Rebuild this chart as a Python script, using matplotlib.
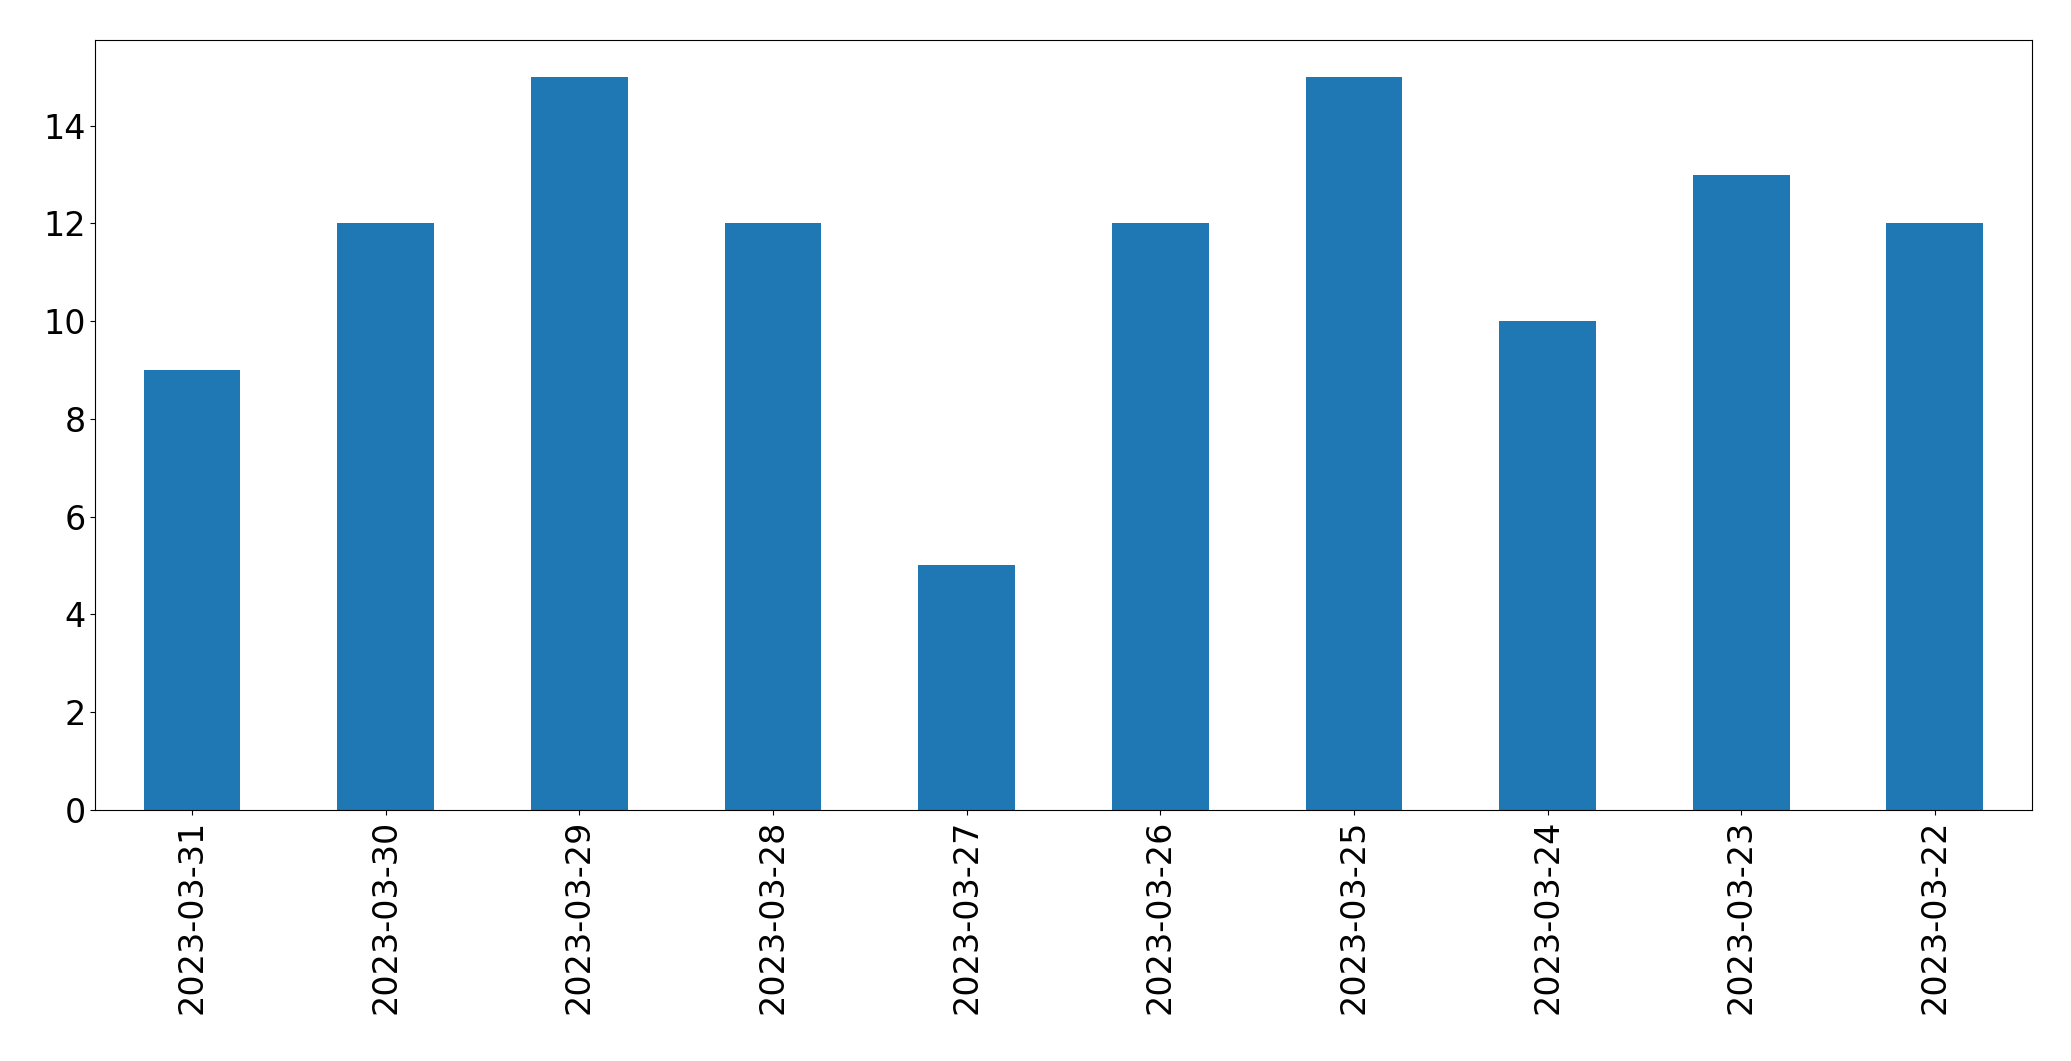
import matplotlib
matplotlib.use("Agg")
import matplotlib.pyplot as plt

dates = ["2023-03-31","2023-03-30","2023-03-29","2023-03-28","2023-03-27",
         "2023-03-26","2023-03-25","2023-03-24","2023-03-23","2023-03-22"]
counts = [9, 12, 15, 12, 5, 12, 15, 10, 13, 12]

fig = plt.figure(figsize=(20.71, 10.61), dpi=100)
ax = fig.add_axes([0.046, 0.237, 0.935, 0.725])
x = range(len(dates))
ax.bar(x, counts, width=0.5, color="#1f77b4")
ax.set_xlim(-0.5, len(dates) - 0.5)
ax.set_ylim(0, 15.75)
ax.set_xticks(list(x))
ax.set_xticklabels(dates, rotation=90)
ax.tick_params(labelsize=24)
fig.savefig("out.png", dpi=100)
